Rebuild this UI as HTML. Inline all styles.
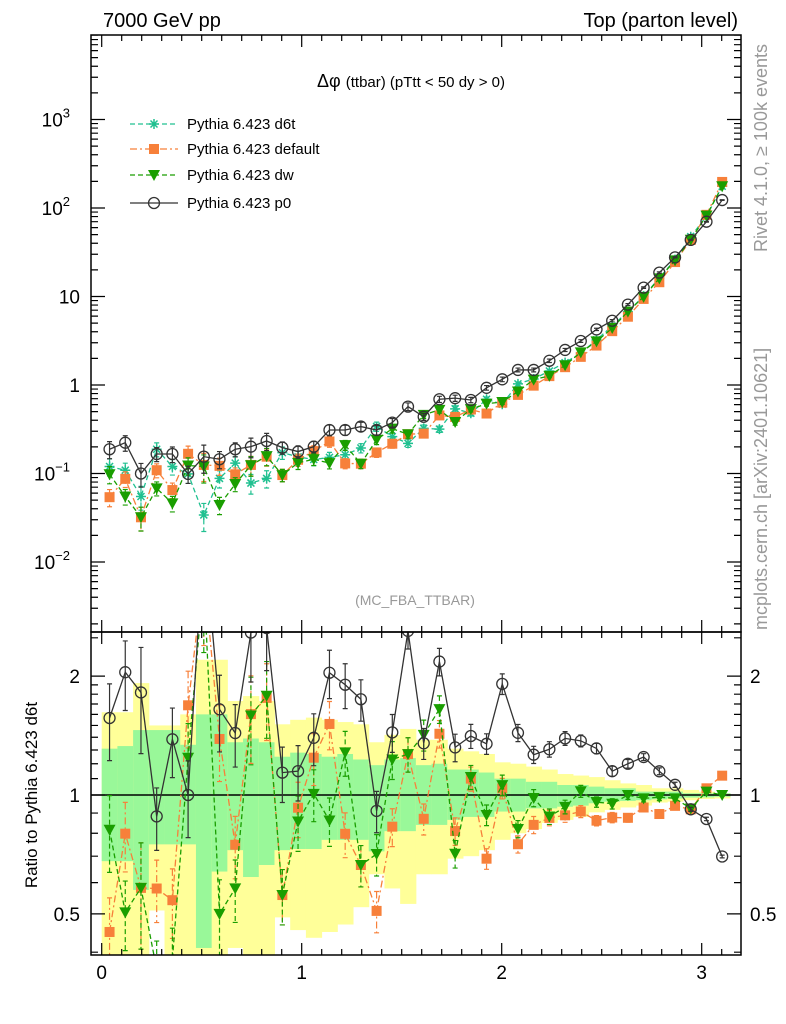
<!DOCTYPE html>
<html><head><meta charset="utf-8"><style>
body{margin:0;background:#fff;}
svg{display:block;font-family:"Liberation Sans",sans-serif;}
</style></head><body>
<svg id="chart" width="786" height="1024" viewBox="0 0 786 1024" xmlns="http://www.w3.org/2000/svg">
<defs>
<clipPath id="cm"><rect x="91" y="35" width="650" height="597"/></clipPath>
<clipPath id="cr"><rect x="91" y="632" width="650" height="323"/></clipPath>
</defs>
<text x="103" y="27" font-size="20">7000 GeV pp</text>
<text x="738" y="27" font-size="20" text-anchor="end">Top (parton level)</text>
<text x="411" y="87" font-size="18" text-anchor="middle">Δφ <tspan font-size="15">(ttbar) (pTtt &lt; 50 dy &gt; 0)</tspan></text>
<text x="415" y="605" font-size="14" fill="#999" text-anchor="middle">(MC_FBA_TTBAR)</text>
<text transform="translate(767,252) rotate(-90)" font-size="18" fill="#999">Rivet 4.1.0, ≥ 100k events</text>
<text transform="translate(767,630) rotate(-90)" font-size="18" fill="#999">mcplots.cern.ch [arXiv:2401.10621]</text>
<text transform="translate(37,795) rotate(-90)" font-size="17" text-anchor="middle">Ratio to Pythia 6.423 d6t</text>
<g id="bands" clip-path="url(#cr)"></g>
<g id="mainMarks" clip-path="url(#cm)"></g>
<g id="ratioMarks" clip-path="url(#cr)"></g>
<g id="axes"></g>
<g id="legend"></g>
</svg>
<script>
const d6t=[0.120,0.109,0.055,0.188,0.120,0.099,0.034,0.088,0.131,0.078,0.088,0.172,0.154,0.144,0.152,0.163,0.194,0.34,0.261,0.219,0.324,0.317,0.538,0.48,0.69,0.607,1.03,1.17,1.44,1.79,2.29,3.24,4.63,6.75,10.1,16.2,26.1,47.4,80.5,176];
const defaultTune=[0.054,0.087,0.032,0.109,0.065,0.167,0.125,0.122,0.098,0.125,0.155,0.096,0.143,0.179,0.230,0.130,0.129,0.173,0.217,0.278,0.282,0.453,0.436,0.528,0.476,0.631,0.773,0.983,1.26,1.59,2.08,2.79,4.06,5.91,9.39,14.5,24.5,43.6,83.7,197];
const dw=[0.098,0.055,0.032,0.068,0.046,0.123,0.12,0.044,0.076,0.124,0.157,0.096,0.132,0.145,0.131,0.209,0.129,0.241,0.321,0.278,0.46,0.523,0.382,0.533,0.614,0.643,0.845,1.15,1.27,1.67,2.34,3.11,4.40,6.75,9.9,16.0,25.6,43.8,82.1,176];
const p0=[0.188,0.223,0.100,0.166,0.166,0.099,0.155,0.145,0.188,0.201,0.233,0.196,0.177,0.201,0.31,0.31,0.339,0.31,0.376,0.57,0.438,0.69,0.71,0.677,0.93,1.16,1.48,1.48,1.88,2.49,3.14,4.25,5.32,8.1,12.6,18.6,27.7,43.6,70,123];
const relErr=[0.22,0.2,0.3,0.18,0.2,0.22,0.35,0.22,0.18,0.25,0.22,0.16,0.16,0.15,0.14,0.13,0.12,0.12,0.11,0.1,0.09,0.08,0.08,0.07,0.06,0.06,0.05,0.05,0.045,0.04,0.035,0.03,0.03,0.025,0.02,0.02,0.015,0.012,0.01,0.008];
const greenHi=[1.31,1.33,1.46,1.46,1.46,1.34,1.60,1.60,1.36,1.39,1.36,1.25,1.28,1.27,1.25,1.27,1.23,1.19,1.23,1.24,1.19,1.20,1.16,1.16,1.14,1.10,1.10,1.08,1.08,1.06,1.06,1.05,1.04,1.04,1.02,1.02,1.02,1.01,1.01,1.01];
const greenLo=[0.68,0.68,0.575,0.75,0.75,0.75,0.41,0.64,0.725,0.62,0.665,0.725,0.73,0.73,0.77,0.77,0.77,0.72,0.81,0.81,0.84,0.84,0.865,0.88,0.88,0.908,0.908,0.925,0.925,0.934,0.94,0.953,0.962,0.966,0.97,0.975,0.98,0.985,0.986,0.99];
const yellowHi=[1.62,1.62,1.92,1.50,1.50,1.60,2.20,2.20,1.73,1.78,1.73,1.51,1.55,1.57,1.55,1.53,1.51,1.36,1.42,1.47,1.38,1.38,1.31,1.29,1.27,1.21,1.20,1.18,1.16,1.13,1.12,1.11,1.09,1.07,1.06,1.04,1.04,1.03,1.02,1.01];
const yellowLo=[0.3,0.3,0.3,0.51,0.3,0.3,0.3,0.3,0.41,0.3,0.3,0.49,0.455,0.435,0.45,0.47,0.52,0.63,0.58,0.53,0.63,0.63,0.69,0.70,0.725,0.77,0.80,0.82,0.85,0.865,0.88,0.904,0.917,0.93,0.94,0.957,0.962,0.97,0.977,0.98];
const xTicks=[0,1,2,3];
const mainTicks=[{v:0.01,l:"10",e:"−2"},{v:0.1,l:"10",e:"−1"},{v:1,l:"1",e:""},{v:10,l:"10",e:""},{v:100,l:"10",e:"2"},{v:1000,l:"10",e:"3"}];
const ratioTicks=[0.5,1,2];

const NS="http://www.w3.org/2000/svg";
const X=v=>101.7+200*v;
const Y=v=>385-88.5*Math.log10(v);
const R=r=>795-395*Math.log10(r);
const nb=d6t.length, bw=Math.PI/nb;
function mk(tag,attrs,parent){const e=document.createElementNS(NS,tag);for(const k in attrs)e.setAttribute(k,attrs[k]);parent.appendChild(e);return e;}
const bands=document.getElementById('bands'),mm=document.getElementById('mainMarks'),rm=document.getElementById('ratioMarks'),ax=document.getElementById('axes'),lg=document.getElementById('legend');

for(let i=0;i<nb;i++){
  const x0=X(i*bw),x1=X((i+1)*bw);
  const y=mk('rect',{x:x0,y:R(yellowHi[i]),width:x1-x0+0.5,height:R(yellowLo[i])-R(yellowHi[i]),fill:'#ffff99'},bands);
  
  
  const g=mk('rect',{x:x0,y:R(greenHi[i]),width:x1-x0+0.5,height:R(greenLo[i])-R(greenHi[i]),fill:'#99f899'},bands);
  
  
}
const one=mk('line',{x1:91,x2:741,y1:R(1),y2:R(1),stroke:'#000','stroke-width':1.5},bands);



const series=[
 {name:'d6t',vals:d6t,col:'#20c090',dash:'5,3',m:'star'},
 {name:'default',vals:defaultTune,col:'#f7803a',dash:'7,3,2,3',m:'square'},
 {name:'dw',vals:dw,col:'#1a9e00',dash:'5,3',m:'tri'},
 {name:'p0',vals:p0,col:'#333',dash:'',m:'circle'}];

function marker(m,x,y,col,parent){
  let e;
  if(m==='circle') e=mk('circle',{cx:x,cy:y,r:5.5,fill:'none',stroke:col,'stroke-width':1.3},parent);
  else if(m==='square') e=mk('rect',{x:x-5,y:y-5,width:10,height:10,fill:col},parent);
  else if(m==='tri') e=mk('path',{d:`M${x-6},${y-5}L${x+6},${y-5}L${x},${y+6}Z`,fill:col},parent);
  else e=mk('path',{d:`M${x-5},${y}L${x+5},${y}M${x},${y-5}L${x},${y+5}M${x-3.5},${y-3.5}L${x+3.5},${y+3.5}M${x-3.5},${y+3.5}L${x+3.5},${y-3.5}`,stroke:col,'stroke-width':1.5},parent);
  return e;
}
function draw(s,parent,fy,ratio){
  const pts=s.vals.map((v,i)=>{const val=ratio?v/d6t[i]:v;return [X((i+0.5)*bw),val];});
  const grp=mk('g',{},parent);
  
  
  pts.forEach(([x,v],i)=>{
    if(ratio&&s.name==='d6t')return;
    const e=relErr[i];
    const eb=mk('path',{d:`M${x},${fy(v*(1+e))}L${x},${fy(v*(1-e))}M${x-2.5},${fy(v*(1+e))}L${x+2.5},${fy(v*(1+e))}M${x-2.5},${fy(v*(1-e))}L${x+2.5},${fy(v*(1-e))}`,stroke:s.col,'stroke-width':1.2,'stroke-dasharray':s.dash},grp);
    
    
  });
  if(ratio&&s.name==='d6t')return;
  const ln=mk('polyline',{points:pts.map(([x,v])=>x+','+fy(v)).join(' '),fill:'none',stroke:s.col,'stroke-width':1.3,'stroke-dasharray':s.dash},grp);
  
  
  pts.forEach(([x,v])=>{const p=marker(s.m,x,fy(v),s.col,grp);
    
    });
}
series.forEach(s=>{draw(s,mm,Y,false);draw(s,rm,R,true);});

[[35,597],[632,323]].forEach(([y,h],k)=>{const f=mk('rect',{x:91,y:y,width:650,height:h,fill:'none',stroke:'#000','stroke-width':1.5},ax);

});
let tk='';
for(let t=-0.0;t<=3.2;t+=0.1){const v=Math.round(t*10)/10,x=X(v);const major=Math.abs(v-Math.round(v))<1e-6;const L=major?12:6;
 [[35,1],[632,-1],[632,1],[955,-1]].forEach(([y0,d])=>{tk+=`M${x},${y0}L${x},${y0+d*L}`;});}
for(let d=-3;d<=3;d++)for(let m=1;m<10;m++){const v=m*Math.pow(10,d),y=Y(v);if(y<35||y>632)continue;const L=m===1?14:7;tk+=`M91,${y}L${91+L},${y}M741,${y}L${741-L},${y}`;}
[0.4,0.5,0.6,0.7,0.8,0.9,1,1.1,1.2,1.3,1.4,1.5,1.6,1.7,1.8,1.9,2,2.5].forEach(v=>{const y=R(v);const L=(v===0.5||v===1||v===2)?14:7;tk+=`M91,${y}L${91+L},${y}M741,${y}L${741-L},${y}`;});
const tp=mk('path',{d:tk,stroke:'#000','stroke-width':1.2,fill:'none'},ax);


xTicks.forEach(v=>{const t=mk('text',{x:X(v),y:979,'font-size':19,'text-anchor':'middle'},ax);t.textContent=v;
 
 });
mainTicks.forEach(o=>{const t=mk('text',{x:o.e?70:80,y:Y(o.v)+7,'font-size':19,'text-anchor':'end'},ax);t.textContent=o.l;
 if(o.e){const s=mk('tspan',{dy:-9,'font-size':13},t);s.textContent=o.e;}
 
 });
ratioTicks.forEach(v=>{[[80,'end'],[750,'start']].forEach(([x,a])=>{const t=mk('text',{x:x,y:R(v)+7,'font-size':19,'text-anchor':a},ax);t.textContent=v;
 
 });});
const labels=['Pythia 6.423 d6t','Pythia 6.423 default','Pythia 6.423 dw','Pythia 6.423 p0'];
const ly=[124,149,175,203];
series.forEach((s,k)=>{const g=mk('g',{},lg);
 
 
 mk('line',{x1:130,x2:178,y1:ly[k],y2:ly[k],stroke:s.col,'stroke-width':1.3,'stroke-dasharray':s.dash},g);
 marker(s.m,154,ly[k],s.col,g);
 const t=mk('text',{x:187,y:ly[k]+5,'font-size':15},g);t.textContent=labels[k];});
</script>
</body></html>
